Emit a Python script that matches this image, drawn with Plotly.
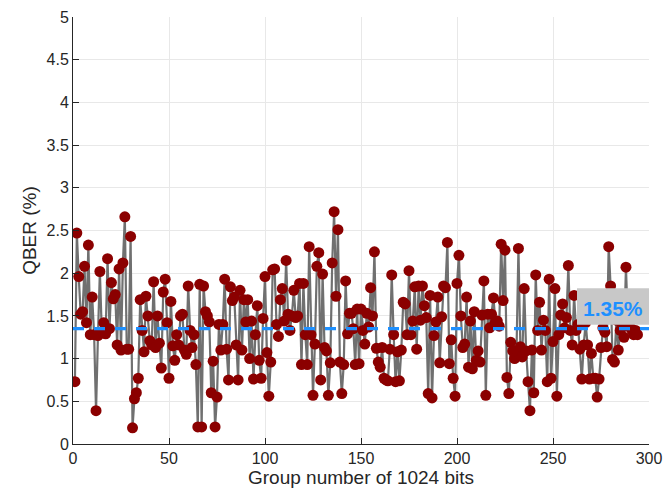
import plotly.graph_objects as go

qber = [
    0.73, 2.47, 1.96, 1.52, 1.55, 2.08, 1.42, 2.33, 1.28, 1.72,
    1.28, 0.39, 1.27, 2.02, 1.30, 1.42, 1.29, 2.17, 1.35, 1.89,
    1.70, 1.75, 1.16, 2.05, 1.10, 2.12, 2.66, 1.11, 1.11, 2.43,
    0.19, 0.53, 0.60, 0.77, 1.69, 1.33, 1.08, 1.73, 1.50, 1.21,
    1.16, 1.90, 1.13, 1.50, 1.18, 0.89, 1.78, 1.93, 1.42, 0.77,
    1.67, 1.15, 0.98, 1.28, 1.16, 1.50, 1.52, 1.10, 1.05, 1.85,
    1.33, 1.13, 1.28, 0.93, 0.20, 1.87, 0.20, 1.85, 1.55, 1.50,
    1.43, 0.60, 0.97, 0.20, 0.55, 1.40, 1.10, 1.40, 1.93, 1.11,
    0.75, 1.84, 1.68, 1.72, 1.16, 0.75, 1.80, 1.10, 1.69, 1.43,
    1.69, 1.00, 1.44, 0.76, 1.28, 1.62, 0.98, 0.77, 1.47, 1.96,
    1.07, 0.56, 0.96, 2.04, 2.05, 1.40, 1.26, 1.69, 1.82, 1.44,
    2.15, 1.52, 1.33, 1.50, 1.80, 1.48, 1.50, 1.88, 0.93, 1.88,
    1.28, 0.93, 2.31, 1.28, 0.57, 1.17, 2.08, 2.24, 0.75, 1.99,
    1.13, 1.09, 0.57, 0.95, 2.12, 2.72, 1.73, 2.51, 0.96, 0.59,
    0.93, 1.91, 1.29, 1.53, 1.53, 1.35, 0.93, 1.58, 0.94, 1.58,
    1.33, 1.17, 1.53, 1.37, 1.83, 1.50, 2.25, 1.12, 0.96, 0.90,
    1.13, 0.77, 0.75, 0.74, 1.11, 1.98, 1.28, 0.73, 1.08, 0.74,
    1.10, 1.66, 1.64, 1.28, 2.03, 1.28, 1.44, 1.84, 1.11, 1.85,
    1.45, 1.85, 1.62, 1.48, 0.59, 1.74, 0.54, 1.27, 1.43, 1.72,
    0.95, 1.49, 1.85, 1.83, 2.36, 0.94, 1.22, 0.77, 0.56, 1.88,
    2.21, 1.50, 1.13, 1.17, 1.72, 0.90, 1.44, 0.88, 1.55, 0.98,
    1.09, 0.96, 1.51, 1.91, 0.57, 1.52, 1.36, 1.52, 1.71, 1.43,
    1.44, 1.38, 2.34, 1.68, 2.27, 0.78, 0.59, 1.19, 1.09, 1.00,
    1.09, 2.29, 1.14, 1.02, 1.82, 1.09, 0.73, 0.39, 1.10, 0.60,
    1.98, 1.33, 1.66, 1.10, 1.45, 1.33, 0.73, 1.93, 0.77, 1.20,
    1.82, 0.56, 1.28, 1.51, 1.64, 1.36, 1.48, 2.09, 1.33, 1.16,
    1.74, 1.33, 1.40, 1.11, 0.76, 1.16, 1.42, 1.16, 0.76, 1.06,
    0.77, 0.77, 0.55, 0.76, 1.13, 1.36, 1.31, 1.14, 2.31, 1.85,
    0.99, 0.96, 1.45, 1.10, 1.33, 1.37, 1.25, 2.07, 1.40, 1.37,
    1.34, 1.28, 1.33, 1.28,
]
groups = list(range(1, len(qber) + 1))
mean_qber = 1.35
mean_label = "1.35%"
x_ticks = [0, 50, 100, 150, 200, 250, 300]
y_ticks = [0, 0.5, 1, 1.5, 2, 2.5, 3, 3.5, 4, 4.5, 5]
y_tick_text = ["0", "0.5", "1", "1.5", "2", "2.5", "3", "3.5", "4", "4.5", "5"]

FONT = "Liberation Sans"
TXT = "#262626"

fig = go.Figure()
fig.add_trace(go.Scatter(
    x=groups, y=qber, mode="lines+markers",
    line=dict(color="#707070", width=2.2),
    marker=dict(color="#8b0000", size=11, line=dict(width=0)),
    showlegend=False,
))
fig.add_trace(go.Scatter(
    x=[0, 300], y=[mean_qber, mean_qber], mode="lines",
    line=dict(color="#1e90ff", width=3.2, dash="11px,10px"),
    showlegend=False,
))
fig.add_shape(type="rect", xref="x", yref="y", x0=262.5, x1=300, y0=1.396, y1=1.823,
              fillcolor="#c8c8c8", line=dict(width=0), layer="above")
fig.add_annotation(x=281.5, y=1.59, text="<b>" + mean_label + "</b>", showarrow=False,
                   font=dict(color="#1e90ff", size=21, family=FONT))

axis_common = dict(
    showgrid=True, gridcolor="#e8e8e8", gridwidth=1,
    showline=True, linecolor=TXT, linewidth=1,
    ticks="inside", ticklen=6, tickcolor=TXT,
    tickfont=dict(size=16, color=TXT, family=FONT),
    zeroline=False, mirror=False, ticklabeloverflow="allow",
)
fig.update_xaxes(range=[0, 300], tickvals=x_ticks,
                 title=dict(text="Group number of 1024 bits", font=dict(size=19, color=TXT, family=FONT), standoff=2),
                 **axis_common)
fig.update_yaxes(range=[0, 5], tickvals=y_ticks, ticktext=y_tick_text,
                 title=dict(text="QBER (%)", font=dict(size=19, color=TXT, family=FONT), standoff=4),
                 **axis_common)
fig.update_layout(
    width=655, height=481,
    margin=dict(l=65, r=14, t=9, b=45, autoexpand=False),
    plot_bgcolor="white", paper_bgcolor="white",
    font=dict(family=FONT),
)
fig.write_html("out.html")
